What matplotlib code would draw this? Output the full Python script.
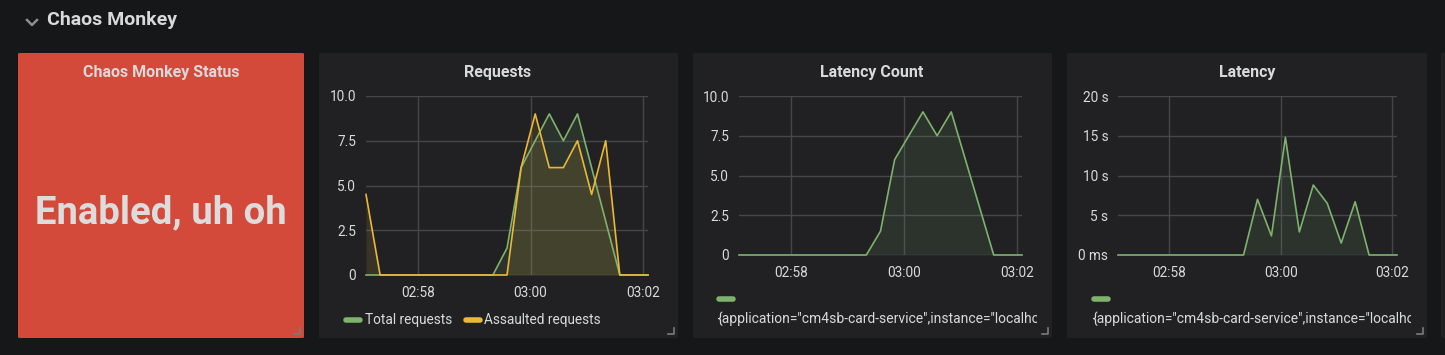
import matplotlib
matplotlib.use("Agg")
import matplotlib.pyplot as plt
from matplotlib.patches import FancyBboxPatch
from matplotlib.lines import Line2D

# === DATA ===
# sample times in seconds relative to 03:00, 15 s step
times = [-175 + 15 * k for k in range(21)]
total_requests = [0, 0, 0, 0, 0, 0, 0, 0, 0, 0, 1.5, 6.0, 7.5, 9.0, 7.5, 9.0, 6.0, 3.0, 0, 0, 0]
assaulted_requests = [4.5, 0, 0, 0, 0, 0, 0, 0, 0, 0, 0, 6.0, 9.0, 6.0, 6.0, 7.5, 4.5, 7.5, 0, 0, 0]
latency_count = [0, 0, 0, 0, 0, 0, 0, 0, 0, 0, 1.5, 6.0, 7.5, 9.0, 7.5, 9.0, 6.0, 3.0, 0, 0, 0]
latency_s = [0, 0, 0, 0, 0, 0, 0, 0, 0, 0, 7.0, 2.4, 14.8, 2.9, 8.8, 6.5, 1.5, 6.7, 0, 0, 0]

x_ticks = [-120, 0, 120]
x_labels = ["02:58", "03:00", "03:02"]
count_ticks = [0, 2.5, 5.0, 7.5, 10.0]
count_labels = ["0", "2.5", "5.0", "7.5", "10.0"]
lat_ticks = [0, 5, 10, 15, 20]
lat_labels = ["0 ms", "5 s", "10 s", "15 s", "20 s"]
# legend label as far as the panel shows it (the rest is cut off)
series_label = '{application="cm4sb-card-service",instance="localho'

# === STYLE ===
W, H = 1445, 355
BG = "#161719"
PANEL = "#212124"
RED = "#d44a3a"
TXT = "#d8d9da"
GRID = "#464649"
GREEN = "#7eb26d"
YELLOW = "#eab839"

plt.rcParams["font.family"] = ["Roboto", "DejaVu Sans"]

fig = plt.figure(figsize=(W / 100, H / 100), dpi=100, facecolor=BG)


def px(x, y, w, h):
    return [x / W, 1 - (y + h) / H, w / W, h / H]


def panel(x, y, w, h, color):
    fig.patches.append(FancyBboxPatch((x / W, 1 - (y + h) / H), w / W, h / H,
                                      boxstyle="round,pad=0,rounding_size=0.002",
                                      transform=fig.transFigure, facecolor=color,
                                      edgecolor="none", zorder=-5))
    # resize handle in the corner
    cx, cy = x + w - 4, y + h - 4
    fig.add_artist(Line2D([(cx - 6) / W, cx / W, cx / W],
                          [1 - cy / H, 1 - cy / H, 1 - (cy - 6) / H],
                          transform=fig.transFigure, color="#7b7b7b", lw=1.2))


def fig_text(x, y, s, **kw):
    kw.setdefault("color", TXT)
    fig.text(x / W, 1 - y / H, s, **kw)


# header
fig.add_artist(Line2D([27 / W, 32 / W, 37 / W], [1 - 20 / H, 1 - 25 / H, 1 - 20 / H],
                      transform=fig.transFigure, color="#8e8e8e", lw=1.8))
fig_text(47, 20, "Chaos Monkey", fontsize=14, fontweight="bold", va="center", ha="left")

# panels
panel(18, 53, 286, 285, RED)
panel(319, 53, 359, 285, PANEL)
panel(693, 53, 359, 285, PANEL)
panel(1067, 53, 360, 285, PANEL)
panel(1441, 53, 20, 285, PANEL)

# stat panel
fig_text(161, 72, "Chaos Monkey Status", fontsize=11.5, fontweight="bold", ha="center", va="center")
fig_text(161, 213, "Enabled, uh oh", fontsize=27.5, fontweight="bold", ha="center", va="center",
         color="#dcdcdc")

# panel titles
fig_text(498, 72, "Requests", fontsize=11.5, fontweight="bold", ha="center", va="center")
fig_text(872, 72, "Latency Count", fontsize=11.5, fontweight="bold", ha="center", va="center")
fig_text(1247, 72, "Latency", fontsize=11.5, fontweight="bold", ha="center", va="center")


def style_axes(ax, yticks, ylabels, ymax):
    ax.set_facecolor("none")
    ax.set_xlim(times[0], times[-1])
    ax.set_ylim(0, ymax)
    ax.set_xticks(x_ticks)
    ax.set_xticklabels(x_labels)
    ax.set_yticks(yticks)
    ax.set_yticklabels(ylabels)
    for s in ax.spines.values():
        s.set_visible(False)
    ax.tick_params(colors=TXT, labelsize=9.8, length=0)
    ax.tick_params(axis="x", pad=8)
    ax.tick_params(axis="y", pad=7)
    ax.grid(True, color=GRID, lw=1)
    ax.set_axisbelow(True)


def series(ax, y, color):
    ax.plot(times, y, color=color, lw=1.2, clip_on=False, zorder=3)
    ax.fill_between(times, y, color=color, alpha=0.12, lw=0, zorder=2)


# Requests
ax1 = fig.add_axes(px(366, 96, 282, 179))
style_axes(ax1, count_ticks, count_labels, 10)
series(ax1, total_requests, GREEN)
series(ax1, assaulted_requests, YELLOW)

# Latency Count
ax2 = fig.add_axes(px(739, 96, 283, 159))
style_axes(ax2, count_ticks, count_labels, 10)
series(ax2, latency_count, GREEN)

# Latency
ax3 = fig.add_axes(px(1118, 96, 279, 159))
style_axes(ax3, lat_ticks, lat_labels, 20)
series(ax3, latency_s, GREEN)

# legends
def swatch(x, y, color):
    fig.add_artist(Line2D([x / W, (x + 14) / W], [1 - y / H, 1 - y / H],
                          transform=fig.transFigure, color=color, lw=4,
                          solid_capstyle="round"))


swatch(346, 320, GREEN)
fig_text(365, 320, "Total requests", fontsize=9.8, va="center")
swatch(466, 320, YELLOW)
fig_text(484, 320, "Assaulted requests", fontsize=9.8, va="center")

for x0, x1 in [(718, 1037), (1093, 1411)]:
    swatch(x0 + 1, 299, GREEN)
    lax = fig.add_axes(px(x0, 308, x1 - x0, 22))
    lax.set_axis_off()
    lax.text(0, 0.5, series_label, transform=lax.transAxes, color=TXT,
             fontsize=10, va="center", ha="left", clip_on=True)

fig.savefig("out.png", dpi=100, facecolor=BG)
